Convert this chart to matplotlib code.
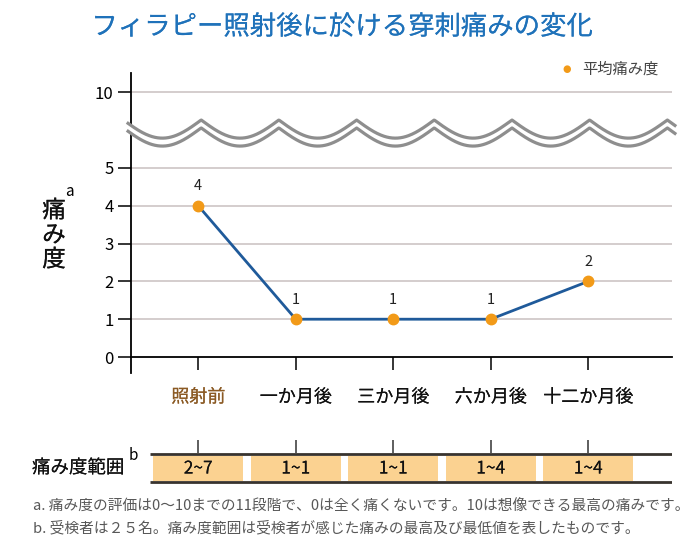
import numpy as np
import matplotlib
matplotlib.use("Agg")
import matplotlib.pyplot as plt
import matplotlib.patheffects as pe

plt.rcParams['font.family'] = ['Noto Sans CJK JP', 'DejaVu Sans']

# data
categories = ["照射前", "一か月後", "三か月後", "六か月後", "十二か月後"]
mean_pain = [4, 1, 1, 1, 2]
pain_range = ["2~7", "1~1", "1~1", "1~4", "1~4"]
y_ticks = [0, 1, 2, 3, 4, 5, 10]

title = "フィラピー照射後に於ける穿刺痛みの変化"
note_a = "a. 痛み度の評価は0～10までの11段階で、0は全く痛くないです。10は想像できる最高の痛みです。"
note_b = "b. 受検者は２５名。痛み度範囲は受検者が感じた痛みの最高及び最低値を表したものです。"

LINE_C = "#1f5a9a"
DOT_C = "#f29a18"
BOX_C = "#fbd291"
GRID_C = "#cdc5c5"
WAVE_C = "#8e8e8e"


def ypos(v):
    # broken axis: everything above 5 is squeezed down
    return v if v <= 5 else v - 3


def medium(color, w=0.05):
    # thin outline to fake a medium weight
    return [pe.withStroke(linewidth=w, foreground=color)]


W, H = 700, 559
fig = plt.figure(figsize=(W / 100, H / 100), dpi=100)

ax = fig.add_axes([131 / W, 1 - 373 / H, (672 - 131) / W, (373 - 73) / H])
x = np.arange(len(categories))
ax.set_xlim(-0.69, 4.86)
ax.set_ylim(-0.423, 7.513)

for v in y_ticks[1:]:
    ax.axhline(ypos(v), color=GRID_C, lw=1.2, zorder=1)

ax.plot(x, mean_pain, color=LINE_C, lw=2, zorder=3)
ax.plot(x, mean_pain, 'o', color=DOT_C, ms=7.5, zorder=4)
for xi, v in zip(x, mean_pain):
    ax.annotate(str(v), (xi, v), xytext=(0, 9), textcoords='offset points',
                ha='center', va='bottom', fontsize=10.5, color='#222222')

for s in ['top', 'right']:
    ax.spines[s].set_visible(False)
ax.spines['bottom'].set_position(('data', 0))
ax.spines['left'].set_linewidth(1.3)
ax.spines['bottom'].set_linewidth(1.3)

ax.set_yticks([ypos(v) for v in y_ticks])
ax.set_yticklabels([str(v) for v in y_ticks], fontsize=12)
ax.tick_params(axis='y', length=9.5, width=1.1, pad=3)
ax.set_xticks(x)
ax.set_xticklabels(categories, fontsize=13)
ax.tick_params(axis='x', length=9.5, width=1.1, pad=13)
for i, lab in enumerate(ax.get_xticklabels()):
    c = "#8b5a24" if i == 0 else "#111111"
    lab.set_color(c)
    lab.set_path_effects(medium(c))

# wave break marks
wx = np.linspace(-0.72, 4.89, 800)
amp = 0.48 * np.abs(np.sin(np.pi * (wx - 0.03) / 0.797))
upper = 6.27 - amp
lower = 6.06 - amp
ax.fill_between(wx, lower, upper, color='white', zorder=5, clip_on=False, lw=0)
ax.plot(wx, upper, color=WAVE_C, lw=2.3, zorder=6, clip_on=False)
ax.plot(wx, lower, color=WAVE_C, lw=2.3, zorder=6, clip_on=False)

# y label
for i, ch in enumerate("痛み度"):
    fig.text(54 / W, 1 - (211 + 24.5 * i) / H, ch, fontsize=17, ha='center',
             va='center', color='#111111', path_effects=medium('#111111', 0.12))
fig.text(69 / W, 1 - 191 / H, "a", fontsize=11, ha='center', va='center')

# title and legend
fig.text(342 / W, 1 - 27 / H, title, fontsize=19, color="#1f72ba",
         ha='center', va='center', path_effects=medium("#1f72ba", 0.06))
fig.text(567 / W, 1 - 69 / H, "●", fontsize=7, color=DOT_C, ha='center',
         va='center', family='DejaVu Sans')
fig.text(582 / W, 1 - 69 / H, "平均痛み度", fontsize=11, color='#444444',
         ha='left', va='center')

# pain range table
tax = fig.add_axes([131 / W, 1 - 490 / H, (672 - 131) / W, (490 - 440) / H])
tax.set_xlim(ax.get_xlim())
tax.set_ylim(0, 50)
tax.axis('off')
tax.vlines(x, 37, 50, color='#333333', lw=1.1)
tax.hlines([36, 8], -0.50, 4.86, color='#38332e', lw=2)
for xi, txt in zip(x, pain_range):
    tax.add_patch(plt.Rectangle((xi - 0.46, 9), 0.92, 25.5, color=BOX_C, lw=0))
    tax.text(xi, 21.5, txt, ha='center', va='center', fontsize=12.5,
             color='#111111', path_effects=medium('#111111'))
fig.text(32 / W, 1 - 468 / H, "痛み度範囲", fontsize=13.3, ha='left',
         va='center', color='#111111', path_effects=medium('#111111'))
fig.text(133 / W, 1 - 455 / H, "b", fontsize=11, ha='center', va='center')

# footnotes
fig.text(33 / W, 1 - 507 / H, note_a, fontsize=10.6, color='#585858',
         ha='left', va='center')
fig.text(33 / W, 1 - 528 / H, note_b, fontsize=10.6, color='#585858',
         ha='left', va='center')

fig.savefig("out.png", dpi=100)
